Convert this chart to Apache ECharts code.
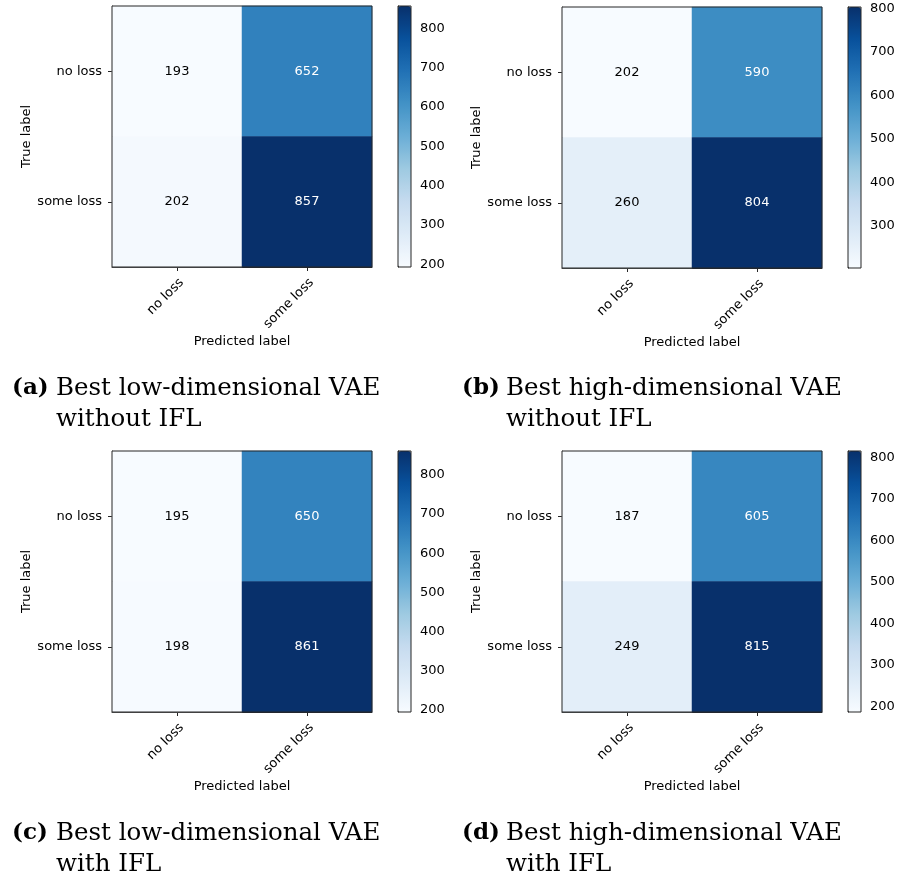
<!DOCTYPE html>
<html>
<head>
<meta charset="utf-8">
<script src="https://cdn.jsdelivr.net/npm/echarts@6/dist/echarts.min.js"></script>
<style>
html,body{margin:0;padding:0;background:#fff;}
#chart{width:900px;height:875px;}
</style>
</head>
<body>
<div id="chart"></div>
<script>
// ---- data ----
const categories = ['no loss', 'some loss'];
// rows = true label, columns = predicted label
const matrixA = [[193, 652], [202, 857]];
const matrixB = [[202, 590], [260, 804]];
const matrixC = [[195, 650], [198, 861]];
const matrixD = [[187, 605], [249, 815]];
const colorbarTicks = [200, 300, 400, 500, 600, 700, 800];
const captionLabels = ['(a)', '(b)', '(c)', '(d)'];
const captionTexts = [
  'Best low-dimensional VAE\nwithout IFL',
  'Best high-dimensional VAE\nwithout IFL',
  'Best low-dimensional VAE\nwith IFL',
  'Best high-dimensional VAE\nwith IFL'
];
const xAxisName = 'Predicted label';
const yAxisName = 'True label';

// ---- layout / style ----
const matrices = [matrixA, matrixB, matrixC, matrixD];
const panelPos = [
  {left: 112, top: 6},
  {left: 562, top: 7},
  {left: 112, top: 451},
  {left: 562, top: 451}
];
const plotW = 260, plotH = 261;
const cbOffset = 286, cbW = 13;
const captionPos = [
  {x: 12, y: 373}, {x: 462, y: 373}, {x: 12, y: 818}, {x: 462, y: 818}
];
const blues = ['#f7fbff','#deebf7','#c6dbef','#9ecae1','#6baed6','#4292c6','#2171b5','#08519c','#08306b'];
const txtFont = 'DejaVu Sans';
const fs = 13;
const edge = '#262626';

const grid = [], xAxis = [], yAxis = [], series = [], visualMap = [], title = [];

matrices.forEach((m, i) => {
  const p = panelPos[i];
  const flat = m.flat();
  const vmin = Math.min(...flat), vmax = Math.max(...flat);
  const gM = 2 * i, gC = 2 * i + 1;
  grid.push({left: p.left, top: p.top, width: plotW, height: plotH, show: true,
    borderColor: edge, borderWidth: 1, backgroundColor: 'transparent', z: 10});
  grid.push({left: p.left + cbOffset, top: p.top, width: cbW, height: plotH, show: true,
    borderColor: edge, borderWidth: 1, backgroundColor: 'transparent', z: 10});

  xAxis.push({type: 'category', gridIndex: gM, data: categories, position: 'bottom',
    axisLine: {show: true, lineStyle: {color: edge}},
    axisTick: {show: true, alignWithLabel: true, length: 4, lineStyle: {color: edge}},
    axisLabel: {rotate: 45, margin: 9, verticalAlign: 'top', fontSize: fs, fontFamily: txtFont, color: '#000', interval: 0},
    splitLine: {show: false},
    name: xAxisName, nameLocation: 'middle', nameGap: 68,
    nameTextStyle: {fontSize: fs, fontFamily: txtFont, color: '#000'}});
  yAxis.push({type: 'category', gridIndex: gM, data: categories, inverse: true,
    axisLine: {show: true, lineStyle: {color: edge}},
    axisTick: {show: true, alignWithLabel: true, length: 4, lineStyle: {color: edge}},
    axisLabel: {margin: 10, fontSize: fs, fontFamily: txtFont, color: '#000', interval: 0},
    splitLine: {show: false},
    name: yAxisName, nameLocation: 'middle', nameGap: 79,
    nameTextStyle: {fontSize: fs, fontFamily: txtFont, color: '#000'}});

  // colorbar axis
  const ticks = colorbarTicks.filter(t => t >= vmin && t <= vmax);
  xAxis.push({type: 'value', gridIndex: gC, show: false, min: 0, max: 1});
  yAxis.push({type: 'value', gridIndex: gC, min: vmin, max: vmax, position: 'right',
    axisLine: {show: true, lineStyle: {color: edge}},
    axisTick: {show: true, length: 4, lineStyle: {color: edge}, customValues: ticks},
    axisLabel: {margin: 9, fontSize: fs, fontFamily: txtFont, color: '#000', customValues: ticks},
    splitLine: {show: false}});

  const data = [];
  m.forEach((row, r) => row.forEach((v, c) => {
    data.push({value: [c, r, v], label: {color: v > vmax / 2 ? '#fff' : '#000'}});
  }));
  series.push({type: 'heatmap', xAxisIndex: 2 * i, yAxisIndex: 2 * i, data: data,
    label: {show: true, fontSize: fs, fontFamily: txtFont, formatter: q => String(q.value[2])},
    emphasis: {disabled: true}, itemStyle: {borderWidth: 0}});

  visualMap.push({type: 'continuous', seriesIndex: i, dimension: 2, min: vmin, max: vmax,
    calculable: false, hoverLink: false, realtime: false, text: null, showLabel: false,
    left: p.left + cbOffset, top: p.top, itemWidth: cbW, itemHeight: plotH, padding: 0,
    inRange: {color: blues}, z: 1});

  const cp = captionPos[i];
  title.push({text: captionLabels[i], left: cp.x, top: cp.y, padding: 0,
    textStyle: {fontFamily: 'DejaVu Serif', fontWeight: 'bold', fontSize: 23, color: '#000', lineHeight: 31}});
  title.push({text: captionTexts[i], left: cp.x + 44, top: cp.y, padding: 0,
    textStyle: {fontFamily: 'DejaVu Serif', fontWeight: 'normal', fontSize: 24.5, color: '#000', lineHeight: 31}});
});

const chart = echarts.init(document.getElementById('chart'), null, {renderer: 'canvas'});
chart.setOption({animation: false, backgroundColor: '#fff', title, grid, xAxis, yAxis, series, visualMap});
</script>
</body>
</html>
